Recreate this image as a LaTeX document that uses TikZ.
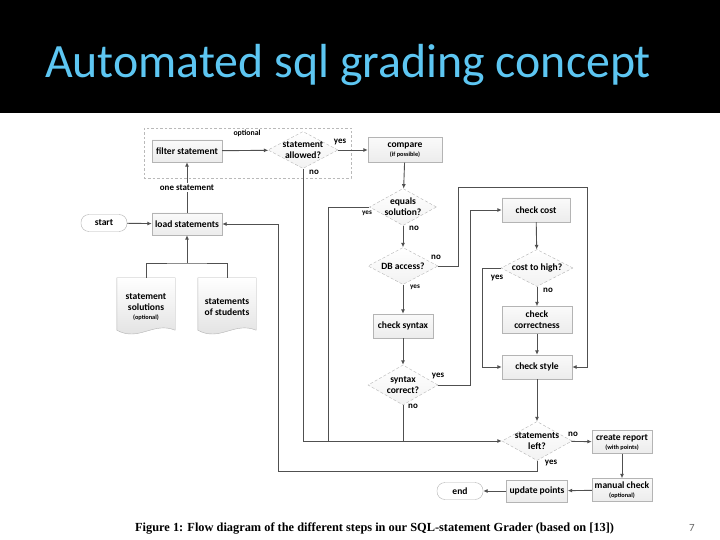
\documentclass[tikz,border=0pt]{standalone}
\usepackage{fontspec}
\setmainfont{Carlito}
\newfontfamily\captionfont{Liberation Serif}
\usetikzlibrary{arrows.meta,shapes.geometric,backgrounds}
\definecolor{titleBlue}{RGB}{93,198,242}
\definecolor{flowGray}{RGB}{80,80,80}
\definecolor{boxEdge}{RGB}{180,180,180}
\newcommand{\flowNote}[1]{{\fontsize{6.3}{7}\selectfont #1}}
% wavy document outline round a named node
\newcommand{\flowDoc}[1]{\path[draw=gray!60, top color=white, bottom color=gray!25] (#1.north west) -- (#1.north east) -- ([yshift=6bp]#1.south east) .. controls +(-22,-9) and +(22,12) .. ([yshift=6bp]#1.south west) -- cycle;}

\begin{document}
\begin{tikzpicture}[x=1bp,y=-1bp,
  flowText/.style={font=\fontsize{9.6}{11}\selectfont\bfseries, text=black},
  stepBox/.style={flowText, draw=boxEdge, top color=gray!4, bottom color=gray!15, minimum width=68bp, minimum height=24bp, inner sep=1pt, align=center},
  decisionBox/.style={flowText, diamond, draw=gray!60, densely dashed, top color=white, bottom color=gray!10, minimum width=70bp, minimum height=37bp, aspect=1.94, inner sep=-4.5pt, align=center},
  terminalBox/.style={flowText, draw=gray!60, fill=white, rounded corners=8bp, minimum width=46bp, minimum height=17bp, inner sep=1pt},
  docBox/.style={flowText, minimum width=58bp, minimum height=58bp, inner sep=0pt, align=center},
  branchText/.style={font=\fontsize{9}{9}\selectfont\bfseries, text=black, inner sep=0pt},
  flowLine/.style={draw=flowGray, line width=0.9bp},
  flowArrow/.style={flowLine, -{Latex[length=4.5bp,width=4bp]}}]
\useasboundingbox (0,0) rectangle (720,540);
\fill[black] (0,0) rectangle (720,113);
\node[font=\fontsize{48}{50}\selectfont, text=titleBlue, anchor=base west, inner sep=0pt] (title) at (45,78) {Automated sql grading concept};

% optional part
\draw[gray!55, dash pattern=on 2.5bp off 2bp, line width=0.7bp] (144,128) rectangle (351,178);
\node[branchText, font=\fontsize{7.8}{8}\selectfont\bfseries] (optional) at (247,133) {optional};

% nodes
\node[terminalBox] (start) at (104,223) {start};
\node[stepBox, minimum width=70bp, minimum height=22bp] (load) at (187,224) {load statements};
\node[stepBox, minimum width=70bp, minimum height=22bp] (filter) at (187,151) {filter statement};
\node[decisionBox] (allowed) at (303,150) {statement\\allowed?};
\node[stepBox, minimum width=74bp, minimum height=25bp] (compare) at (405,150) {compare\\[-2pt]\flowNote{(if possible)}};
\node[decisionBox, minimum width=67bp] (equals) at (403,207) {equals\\solution?};
\node[decisionBox] (dbAccess) at (403,266) {DB access?};
\node[stepBox, minimum width=60bp] (syntax) at (403,326) {check syntax};
\node[decisionBox, minimum height=40bp] (syntaxOk) at (403,385) {syntax\\correct?};
\node[stepBox] (checkCost) at (536,210) {check cost};
\node[decisionBox, minimum width=72bp] (costHigh) at (537,268) {cost to high?};
\node[stepBox, minimum width=70bp, minimum height=27bp] (correct) at (537,320) {check\\correctness};
\node[stepBox, minimum width=70bp] (style) at (537,367) {check style};
\node[decisionBox, minimum height=39bp] (left) at (537,441) {statements\\left?};
\node[stepBox, minimum width=60bp, minimum height=23bp] (report) at (622,442) {create report\\[-2pt]\flowNote{(with points)}};
\node[stepBox, minimum width=60bp, minimum height=23bp] (manual) at (622,490) {manual check\\[-2pt]\flowNote{(optional)}};
\node[stepBox, minimum width=61bp, minimum height=22bp] (update) at (537,491) {update points};
\node[terminalBox] (end) at (460,491) {end};
\node[docBox] (solDoc) at (146,307) {statement\\solutions\\[-1pt]\flowNote{(optional)}};
\node[docBox] (studDoc) at (227,307) {statements\\of students};
\begin{scope}[on background layer]
\flowDoc{solDoc}
\flowDoc{studDoc}
\end{scope}

% bends
\coordinate (docJoin) at (187,263);
\coordinate (solBus) at (328,441);
\coordinate (syntaxBus) at (403,441);
\coordinate (dbTurn) at (458,187);
\coordinate (styleTurn) at (587,187);
\coordinate (costTurn) at (470,210);
\coordinate (highTurn) at (482,268);
\coordinate (backTurn) at (278,471);

% connectors
\draw[flowArrow] (start) -- (load);
\draw[flowArrow] (load) -- (filter) node[branchText, fill=white, inner sep=1.5pt, pos=0.5] (oneStmt) {one statement};
\draw[flowArrow] (filter) -- (allowed);
\draw[flowArrow] (allowed) -- (compare);
\draw[flowArrow] (compare) -- (equals);
\draw[flowArrow] (equals) -- (dbAccess);
\draw[flowArrow] (dbAccess) -- (syntax);
\draw[flowArrow] (syntax) -- (syntaxOk);
\draw[flowArrow] (checkCost) -- (costHigh);
\draw[flowArrow] (costHigh) -- (correct);
\draw[flowArrow] (correct) -- (style);
\draw[flowArrow] (style) -- (left);
\draw[flowArrow] (left) -- (report);
\draw[flowArrow] (report) -- (manual);
\draw[flowArrow] (manual) -- (update);
\draw[flowArrow] (update) -- (end);
\draw[flowLine] (solDoc.north) |- (docJoin) -| (studDoc.north);
\draw[flowArrow] (docJoin) -- (load);
\draw[flowArrow] (allowed.south) |- (left.west);
\draw[flowLine] (equals.west) -| (solBus);
\draw[flowLine] (syntaxOk.south) -- (syntaxBus);
\draw[flowArrow] (dbAccess.east) -| (dbTurn) -- (styleTurn) |- (style.east);
\draw[flowArrow] (syntaxOk.east) -| (costTurn) -- (checkCost.west);
\draw[flowArrow] (costHigh.west) -- (highTurn) |- (style.west);
\draw[flowArrow] (left.south) |- (backTurn) |- (load.east);

% branch labels
\node[branchText] (allowedYes) at (340,142) {yes};
\node[branchText] (allowedNo) at (314,172) {no};
\node[branchText, font=\fontsize{7.2}{7}\selectfont\bfseries] (equalsYes) at (367,213) {yes};
\node[branchText] (equalsNo) at (414,228) {no};
\node[branchText] (dbNo) at (436,257) {no};
\node[branchText, font=\fontsize{7.2}{7}\selectfont\bfseries] (dbYes) at (415,287) {yes};
\node[branchText] (syntaxYes) at (438,376) {yes};
\node[branchText] (syntaxNo) at (413,406) {no};
\node[branchText] (costYes) at (497,278) {yes};
\node[branchText] (costNo) at (548,290) {no};
\node[branchText] (leftNo) at (573,434) {no};
\node[branchText] (leftYes) at (551,463) {yes};

% caption and page number
\node[font=\captionfont\bfseries\fontsize{12.4}{14}\selectfont, anchor=base west, inner sep=0pt] (caption) at (135,531) {Figure 1: Flow diagram of the different steps in our SQL-statement Grader (based on [13])};
\node[font=\fontsize{11}{12}\selectfont, text=gray!80!black, anchor=base, inner sep=0pt] (pageNo) at (692,531) {7};
\end{tikzpicture}
\end{document}
